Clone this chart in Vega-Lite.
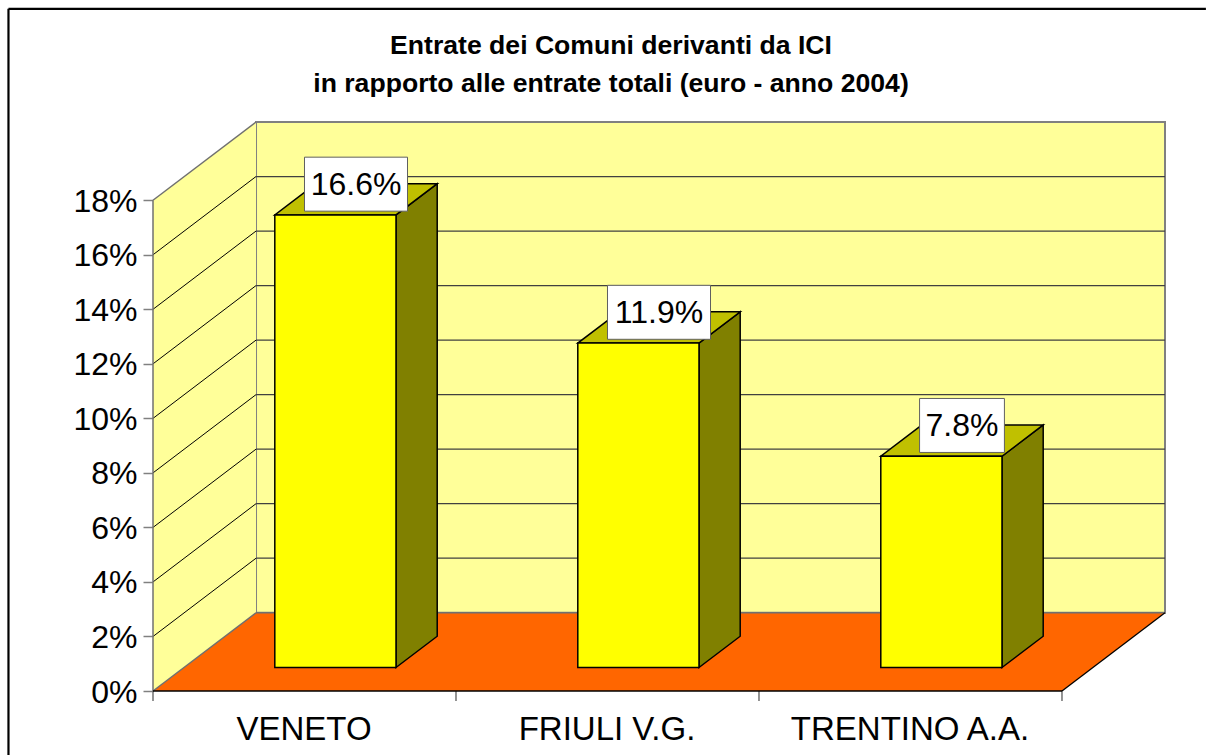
{
"$schema":"https://vega.github.io/schema/vega-lite/v6.json",
"width":1012,"height":569,
"autosize":{"type":"none"},
"padding":{"left":153,"top":122,"right":41,"bottom":64},
"background":"#FFFFFF",
"config":{"view":{"stroke":null},"font":"Liberation Sans"},
"title":{"text":["Entrate dei Comuni derivanti da ICI","in rapporto alle entrate totali (euro - anno 2004)"],"anchor":"middle","dx":-48,"dy":90,"offset":0,"font":"Liberation Sans","fontSize":26.6,"fontWeight":"bold","lineHeight":38,"color":"#000000"},
"datasets":{
"bars":[{"region":"VENETO","i":0,"value":16.6},{"region":"FRIULI V.G.","i":1,"value":11.9},{"region":"TRENTINO A.A.","i":2,"value":7.75}],
"ticks":[{"t":0},{"t":2},{"t":4},{"t":6},{"t":8},{"t":10},{"t":12},{"t":14},{"t":16},{"t":18}]
},
"encoding":{
"x":{"field":"x0","type":"quantitative","scale":{"domain":[0,3.34],"nice":false,"zero":false},"axis":{"values":[0.5,1.5,2.5],"title":null,"grid":false,"domain":false,"ticks":false,"labelExpr":"datum.value<1?'VENETO':datum.value<2?'FRIULI V.G.':'TRENTINO A.A.'","labelFontSize":33,"labelFont":"Liberation Sans","labelColor":"#000000","labelPadding":22,"labelOffset":-1,"labelOverlap":false,"labelFlush":false,"labelLimit":0}},
"y":{"field":"y0","type":"quantitative","scale":{"domain":[0,20.87],"nice":false,"zero":false},"axis":{"values":[0,2,4,6,8,10,12,14,16,18],"title":null,"grid":false,"domain":false,"ticks":true,"tickSize":10,"tickColor":"#808080","tickWidth":1.5,"labelExpr":"datum.value+'%'","labelFontSize":32,"labelFont":"Liberation Sans","labelColor":"#000000","labelPadding":6,"labelOffset":1,"labelOverlap":false,"labelFlush":false}}
},
"layer":[
{"data":{"values":[{"x0":0.34,"x1":3.34,"y0":2.87,"y1":20.87}]},"mark":{"type":"rect","fill":"#FFFF99","stroke":"#808080","strokeWidth":2},"encoding":{"x2":{"field":"x1"},"y2":{"field":"y1"}}},
{"data":{"values":[{"x0":0,"y0":0,"y1":18},{"x0":0.34,"y0":2.87,"y1":20.87}]},"mark":{"type":"area","fill":"#FFFF99","orient":"vertical"},"encoding":{"y2":{"field":"y1"}}},
{"data":{"values":[{"y0":2.87,"x0":0.34,"x1":3.34},{"y0":0,"x0":0,"x1":3}]},"mark":{"type":"area","fill":"#FF6600","orient":"horizontal"},"encoding":{"x2":{"field":"x1"}}},
{"data":{"name":"ticks"},"transform":[{"filter":"datum.t>0 && datum.t<18"},{"calculate":"0.34","as":"x0"},{"calculate":"3.34","as":"x1"},{"calculate":"datum.t+2.87","as":"y0"}],"mark":{"type":"rule","stroke":"#404040","strokeWidth":1.2},"encoding":{"x2":{"field":"x1"}}},
{"data":{"name":"ticks"},"transform":[{"filter":"datum.t>0 && datum.t<18"},{"calculate":"0","as":"x0"},{"calculate":"0.34","as":"x1"},{"calculate":"datum.t","as":"y0"},{"calculate":"datum.t+2.87","as":"y1"}],"mark":{"type":"rule","stroke":"#000000","strokeWidth":1},"encoding":{"x2":{"field":"x1"},"y2":{"field":"y1"}}},
{"data":{"values":[{"x0":0,"x1":0.34,"y0":18,"y1":20.87},{"x0":0,"x1":0.34,"y0":0,"y1":2.87},{"x0":0,"x1":0,"y0":0,"y1":18},{"x0":0.34,"x1":3.34,"y0":2.87,"y1":2.87},{"x0":0,"x1":0,"y0":0,"y1":-0.37},{"x0":1,"x1":1,"y0":0,"y1":-0.37},{"x0":2,"x1":2,"y0":0,"y1":-0.37},{"x0":3,"x1":3,"y0":0,"y1":-0.37}]},"mark":{"type":"rule","stroke":"#707070","strokeWidth":1.5},"encoding":{"x2":{"field":"x1"},"y2":{"field":"y1"}}},
{"data":{"values":[{"x0":0,"x1":3,"y0":0,"y1":0},{"x0":3,"x1":3.34,"y0":0,"y1":2.87}]},"mark":{"type":"rule","stroke":"#000000","strokeWidth":1.3},"encoding":{"x2":{"field":"x1"},"y2":{"field":"y1"}}},
{"data":{"name":"bars"},"transform":[{"calculate":"[0,1]","as":"t"},{"flatten":["t"]},{"calculate":"datum.i+0.802+0.136*datum.t","as":"x0"},{"calculate":"0.861+1.148*datum.t","as":"y0"},{"calculate":"datum.y0+datum.value","as":"y1"}],"mark":{"type":"area","fill":"#808000","stroke":"#000000","strokeWidth":1.5,"orient":"vertical"},"encoding":{"y2":{"field":"y1"},"detail":{"field":"region"}}},
{"data":{"name":"bars"},"transform":[{"calculate":"[0,1]","as":"t"},{"flatten":["t"]},{"calculate":"datum.i+0.402+0.136*datum.t","as":"x0"},{"calculate":"datum.x0+0.4","as":"x1"},{"calculate":"datum.value+0.861+1.148*datum.t","as":"y0"}],"mark":{"type":"area","fill":"#C0C000","stroke":"#000000","strokeWidth":1.5,"orient":"horizontal"},"encoding":{"x2":{"field":"x1"},"detail":{"field":"region"}}},
{"data":{"name":"bars"},"transform":[{"calculate":"datum.i+0.402","as":"x0"},{"calculate":"datum.i+0.802","as":"x1"},{"calculate":"0.861","as":"y0"},{"calculate":"0.861+datum.value","as":"y1"}],"mark":{"type":"rect","fill":"#FFFF00","stroke":"#000000","strokeWidth":1.5},"encoding":{"x2":{"field":"x1"},"y2":{"field":"y1"}}},
{"data":{"name":"bars"},"transform":[{"calculate":"datum.value>=10?0.17:0.14","as":"hw"},{"calculate":"datum.i+0.67-datum.hw","as":"x0"},{"calculate":"datum.i+0.67+datum.hw","as":"x1"},{"calculate":"datum.value+1","as":"y0"},{"calculate":"datum.value+2.98","as":"y1"}],"mark":{"type":"rect","fill":"#FFFFFF","stroke":"#606060","strokeWidth":1},"encoding":{"x2":{"field":"x1"},"y2":{"field":"y1"}}},
{"data":{"name":"bars"},"transform":[{"calculate":"datum.i+0.67","as":"x0"},{"calculate":"datum.value+2","as":"y0"},{"calculate":"format(datum.value,'.1f')+'%'","as":"label"}],"mark":{"type":"text","font":"Liberation Sans","fontSize":32,"align":"center","baseline":"middle","dy":1,"color":"#000000"},"encoding":{"text":{"field":"label"}}},
{"data":{"values":[{"x0":-0.477,"x1":3.475,"y0":25.02,"y1":25.02},{"x0":-0.477,"x1":-0.477,"y0":25.02,"y1":-2.35}]},"mark":{"type":"rule","stroke":"#000000","strokeWidth":2.2},"encoding":{"x2":{"field":"x1"},"y2":{"field":"y1"}}}
]
}
